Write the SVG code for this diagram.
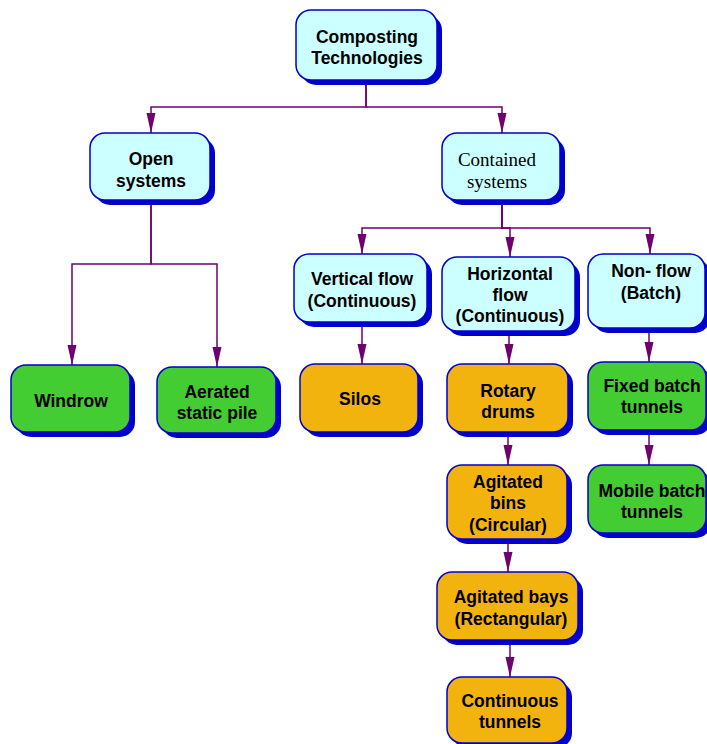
<svg xmlns="http://www.w3.org/2000/svg" width="707" height="744" viewBox="0 0 707 744">
<style>
.sh{fill:#0000cc;}
.bx{stroke:#0000cc;stroke-width:1.5;}
.cy{fill:#ccffff;}
.gr{fill:#44cc33;}
.or{fill:#f2b30f;}
.t{font-family:"Liberation Sans",Arial,sans-serif;font-weight:bold;font-size:17.5px;fill:#000;text-anchor:middle;}
.ts{font-family:"Liberation Serif","Times New Roman",serif;font-size:19px;fill:#000;text-anchor:middle;}
.c{fill:none;stroke:#6f006f;stroke-width:1.5;marker-end:url(#ah);}
</style>
<defs>
<marker id="ah" viewBox="0 0 20 10" refX="20" refY="5" markerWidth="20" markerHeight="10" markerUnits="userSpaceOnUse" orient="auto">
<path d="M0,0.5 L20,5 L0,9.5 z" fill="#6f006f"/>
</marker>
</defs>
<rect width="707" height="744" fill="#fff"/>
<g id="connectors">
<path class="c" d="M366,85 V107 H151 V133"/>
<path class="c" d="M366,85 V107 H502 V133"/>
<path class="c" d="M151,205 V264 H72 V365"/>
<path class="c" d="M151,205 V264 H217 V367"/>
<path class="c" d="M502,205 V228 H362 V254"/>
<path class="c" d="M502,205 V228 H510 V257"/>
<path class="c" d="M502,205 V228 H650 V254"/>
<path class="c" d="M362,327 V364"/>
<path class="c" d="M509,336 V364"/>
<path class="c" d="M508,437 V465"/>
<path class="c" d="M508,544 V572"/>
<path class="c" d="M510,645 V677"/>
<path class="c" d="M649,333 V362"/>
<path class="c" d="M649,435 V465"/>
</g>
<g id="composting">
<rect class="sh" x="301" y="15" width="141" height="70" rx="15"/>
<rect class="bx cy" x="296" y="10" width="141" height="70" rx="15"/>
<text class="t" x="367" y="43">Composting</text>
<text class="t" x="367" y="64">Technologies</text>
</g>
<g id="open">
<rect class="sh" x="95" y="138" width="120" height="67" rx="15"/>
<rect class="bx cy" x="90" y="133" width="120" height="67" rx="15"/>
<text class="t" x="151" y="165">Open</text>
<text class="t" x="151" y="187">systems</text>
</g>
<g id="contained">
<rect class="sh" x="447" y="138" width="118" height="67" rx="15"/>
<rect class="bx cy" x="442" y="133" width="118" height="67" rx="15"/>
<text class="ts" x="497" y="166">Contained</text>
<text class="ts" x="497" y="188">systems</text>
</g>
<g id="windrow">
<rect class="sh" x="16" y="370" width="119" height="67" rx="15"/>
<rect class="bx gr" x="11" y="365" width="119" height="67" rx="15"/>
<text class="t" x="71" y="407">Windrow</text>
</g>
<g id="aerated">
<rect class="sh" x="162" y="372" width="119" height="66" rx="15"/>
<rect class="bx gr" x="157" y="367" width="119" height="66" rx="15"/>
<text class="t" x="217" y="398">Aerated</text>
<text class="t" x="217" y="419">static pile</text>
</g>
<g id="vertical">
<rect class="sh" x="299" y="259" width="133" height="68" rx="15"/>
<rect class="bx cy" x="294" y="254" width="133" height="68" rx="15"/>
<text class="t" x="362" y="285">Vertical flow</text>
<text class="t" x="362" y="307">(Continuous)</text>
</g>
<g id="horizontal">
<rect class="sh" x="447" y="262" width="133" height="74" rx="15"/>
<rect class="bx cy" x="442" y="257" width="133" height="74" rx="15"/>
<text class="t" x="510" y="280">Horizontal</text>
<text class="t" x="510" y="301">flow</text>
<text class="t" x="510" y="322">(Continuous)</text>
</g>
<g id="nonflow">
<rect class="sh" x="593" y="259" width="117" height="74" rx="15"/>
<rect class="bx cy" x="588" y="254" width="117" height="74" rx="15"/>
<text class="t" x="651" y="277">Non- flow</text>
<text class="t" x="651" y="299">(Batch)</text>
</g>
<g id="silos">
<rect class="sh" x="305" y="369" width="118" height="68" rx="15"/>
<rect class="bx or" x="300" y="364" width="118" height="68" rx="15"/>
<text class="t" x="360" y="405">Silos</text>
</g>
<g id="rotary">
<rect class="sh" x="452" y="369" width="121" height="68" rx="15"/>
<rect class="bx or" x="447" y="364" width="121" height="68" rx="15"/>
<text class="t" x="508" y="397">Rotary</text>
<text class="t" x="508" y="418">drums</text>
</g>
<g id="bins">
<rect class="sh" x="452" y="470" width="120" height="74" rx="15"/>
<rect class="bx or" x="447" y="465" width="120" height="74" rx="15"/>
<text class="t" x="508" y="488">Agitated</text>
<text class="t" x="508" y="509">bins</text>
<text class="t" x="508" y="531">(Circular)</text>
</g>
<g id="bays">
<rect class="sh" x="442" y="577" width="141" height="68" rx="15"/>
<rect class="bx or" x="437" y="572" width="141" height="68" rx="15"/>
<text class="t" x="511" y="603">Agitated bays</text>
<text class="t" x="511" y="625">(Rectangular)</text>
</g>
<g id="continuous">
<rect class="sh" x="452" y="682" width="120" height="66" rx="15"/>
<rect class="bx or" x="447" y="677" width="120" height="66" rx="15"/>
<text class="t" x="510" y="707">Continuous</text>
<text class="t" x="510" y="728">tunnels</text>
</g>
<g id="fixed">
<rect class="sh" x="593" y="367" width="118" height="68" rx="15"/>
<rect class="bx gr" x="588" y="362" width="118" height="68" rx="15"/>
<text class="t" x="652" y="392">Fixed batch</text>
<text class="t" x="652" y="413">tunnels</text>
</g>
<g id="mobile">
<rect class="sh" x="593" y="470" width="118" height="68" rx="15"/>
<rect class="bx gr" x="588" y="465" width="118" height="68" rx="15"/>
<text class="t" x="652" y="497">Mobile batch</text>
<text class="t" x="652" y="518">tunnels</text>
</g>
</svg>
